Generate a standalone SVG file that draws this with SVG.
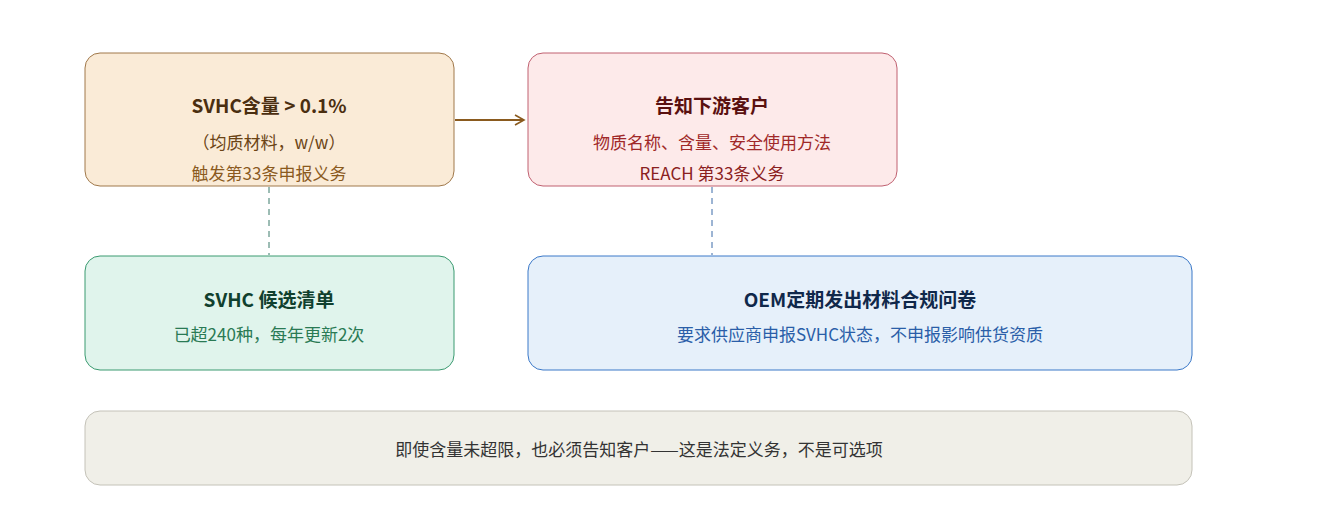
<svg xmlns="http://www.w3.org/2000/svg" width="1339" height="531" viewBox="0 0 1339 531">
<defs>
<marker id="ah" markerWidth="12" markerHeight="12" refX="10" refY="6" orient="auto" markerUnits="userSpaceOnUse"><path d="M1,1 L10,6 L1,11" fill="none" stroke="#8a5a1e" stroke-width="1.6"/></marker>
</defs>
<style>
text{font-family:"Noto Sans CJK SC","Noto Sans",sans-serif;text-anchor:middle}
.t{font-size:19px;font-weight:bold}
.s{font-size:17px}
</style>
<rect width="1339" height="531" fill="#fff"/>
<g id="connectors">
<line x1="455" y1="120" x2="524" y2="120" stroke="#8a5a1e" stroke-width="2" marker-end="url(#ah)"/>
<line x1="269" y1="187" x2="269" y2="255" stroke="#3a7a6a" stroke-width="1" stroke-dasharray="6,5"/>
<line x1="712" y1="187" x2="712" y2="255" stroke="#3a6aa8" stroke-width="1" stroke-dasharray="6,5"/>
</g>
<g id="n1">
<rect x="85" y="53" width="369" height="133" rx="15" fill="#faebd7" stroke="#a0784a"/>
<text x="269" y="113" class="t" fill="#4a2e10">SVHC含量 &gt; 0.1%</text>
<text x="269" y="149" class="s" fill="#6b4415">（均质材料，w/w）</text>
<text x="269" y="180" class="s" fill="#8a5a1e">触发第33条申报义务</text>
</g>
<g id="n2">
<rect x="528" y="53" width="369" height="133" rx="15" fill="#fdeaea" stroke="#c06070"/>
<text x="712" y="113" class="t" fill="#5a1010">告知下游客户</text>
<text x="712" y="149" class="s" fill="#a02828">物质名称、含量、安全使用方法</text>
<text x="712" y="180" class="s" fill="#8a2020">REACH 第33条义务</text>
</g>
<g id="n3">
<rect x="85" y="256" width="369" height="114" rx="15" fill="#e0f4ec" stroke="#3a9a70"/>
<text x="269" y="307" class="t" fill="#10402e">SVHC 候选清单</text>
<text x="269" y="341" class="s" fill="#2a7a54">已超240种，每年更新2次</text>
</g>
<g id="n4">
<rect x="528" y="256" width="664" height="114" rx="15" fill="#e6f0fa" stroke="#3a78c8"/>
<text x="860" y="307" class="t" fill="#10284a">OEM定期发出材料合规问卷</text>
<text x="860" y="341" class="s" fill="#2a5ea8">要求供应商申报SVHC状态，不申报影响供货资质</text>
</g>
<g id="n5">
<rect x="85" y="411" width="1107" height="74" rx="15" fill="#f0efe8" stroke="#c4c2b8"/>
<text x="639" y="456" class="s" fill="#333">即使含量未超限，也必须告知客户——这是法定义务，不是可选项</text>
</g>
</svg>
